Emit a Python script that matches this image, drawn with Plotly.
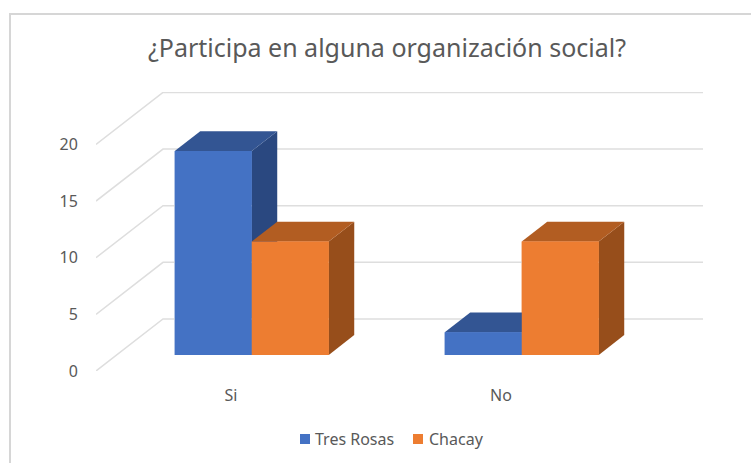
import plotly.graph_objects as go

categories = ["Si", "No"]
series_names = ["Tres Rosas", "Chacay"]
tres_rosas = [18, 2]
chacay = [10, 10]
y_ticks = [0, 5, 10, 15, 20]

FRONT = ["#4472C4", "#ED7D31"]
TOP = ["#335593", "#B25D22"]
SIDE = ["#2A4880", "#974E1B"]
GRID = "#DEDEDE"
TEXT = "#595959"
FONT = "Noto Sans"

W, H = 751, 463
L, R, T, B = 96, 48, 92, 92
PW, PH = W - L - R, H - T - B
PX_CAT = 270.0
PX_UNIT = 11.33
XMAX = PW / PX_CAT
YMAX = PH / PX_UNIT
DX = 67 / PX_CAT          # full floor depth, category units
DY = 52 / PX_UNIT         # full floor depth, value units
GAP = 0.31                # depth before the bars, as a fraction of floor depth
BAR_DEPTH = 0.38
BAR_W = 77 / PX_CAT


def px(x):
    return (x - L) / PW


def py(y):
    return (H - B - y) / PH


fig = go.Figure()

for s, (name, vals) in enumerate(zip(series_names, [tres_rosas, chacay])):
    fig.add_trace(go.Bar(
        x=[i + 0.5 + GAP * DX + (s - 0.5) * BAR_W for i in range(len(categories))],
        y=vals, base=GAP * DY, width=BAR_W, name=name,
        marker=dict(color=FRONT[s], line=dict(width=0)),
        hoverinfo="skip", showlegend=False,
    ))

for v in y_ticks:
    fig.add_trace(go.Scatter(
        x=[0, DX, XMAX], y=[v, v + DY, v + DY], mode="lines",
        line=dict(color=GRID, width=1.5), showlegend=False, hoverinfo="skip",
        cliponaxis=False,
    ))


def poly(xs, ys, color):
    fig.add_trace(go.Scatter(
        x=xs + xs[:1], y=ys + ys[:1], mode="lines", fill="toself", fillcolor=color,
        line=dict(width=0, color=color), showlegend=False, hoverinfo="skip",
        cliponaxis=False,
    ))


for i in range(len(categories)):
    for s, vals in enumerate([tres_rosas, chacay]):
        v = vals[i]
        x0 = i + 0.5 + GAP * DX + (s - 1) * BAR_W
        x1 = x0 + BAR_W
        y0 = GAP * DY
        y1 = y0 + v
        ddx, ddy = BAR_DEPTH * DX, BAR_DEPTH * DY
        poly([x1, x1 + ddx, x1 + ddx, x1], [y0, y0 + ddy, y1 + ddy, y1], SIDE[s])
        poly([x0, x0 + ddx, x1 + ddx, x1], [y1, y1 + ddy, y1 + ddy, y1], TOP[s])
        poly([x0, x1, x1, x0], [y0, y0, y1, y1], FRONT[s])

shapes = [dict(
    type="path", xref="paper", yref="paper", layer="below",
    path="M {} {} L {} {} L {} {}".format(px(10), py(H), px(10), py(14), px(W), py(14)),
    line=dict(color="#D6D6D6", width=2),
)]
annotations = []
for name, color, sx, tx in zip(series_names, FRONT, [300, 413], [314, 428]):
    shapes.append(dict(type="rect", xref="paper", yref="paper", x0=px(sx), x1=px(sx + 10),
                       y0=py(444), y1=py(434), fillcolor=color, line=dict(width=0)))
    annotations.append(dict(text=name, xref="paper", yref="paper", x=px(tx), y=py(439),
                            xanchor="left", yanchor="middle", showarrow=False,
                            xshift=-1, font=dict(family=FONT, size=16, color=TEXT)))

fig.update_layout(
    width=W, height=H,
    margin=dict(l=L, r=R, t=T, b=B),
    paper_bgcolor="white", plot_bgcolor="white",
    barmode="overlay",
    showlegend=False,
    title=dict(
        text="¿Participa en alguna organización social?",
        x=387 / W, xref="container", xanchor="center",
        y=1 - 48 / H, yref="container", yanchor="middle",
        font=dict(family=FONT, size=25, color=TEXT),
    ),
    xaxis=dict(
        range=[0, XMAX], tickmode="array", tickvals=[0.5, 1.5], ticktext=categories,
        showgrid=False, zeroline=False, showline=False,
        ticks="outside", ticklen=10, tickcolor="rgba(0,0,0,0)",
        tickfont=dict(family=FONT, size=16, color=TEXT),
    ),
    yaxis=dict(
        range=[0, YMAX], tickmode="array", tickvals=y_ticks,
        showgrid=False, zeroline=False, showline=False,
        ticks="outside", ticklen=14, tickcolor="rgba(0,0,0,0)",
        tickfont=dict(family=FONT, size=16, color=TEXT),
    ),
    shapes=shapes,
    annotations=annotations,
)

fig.write_html("out.html", config={"displayModeBar": False},
               post_script="document.body.style.margin='0';")
